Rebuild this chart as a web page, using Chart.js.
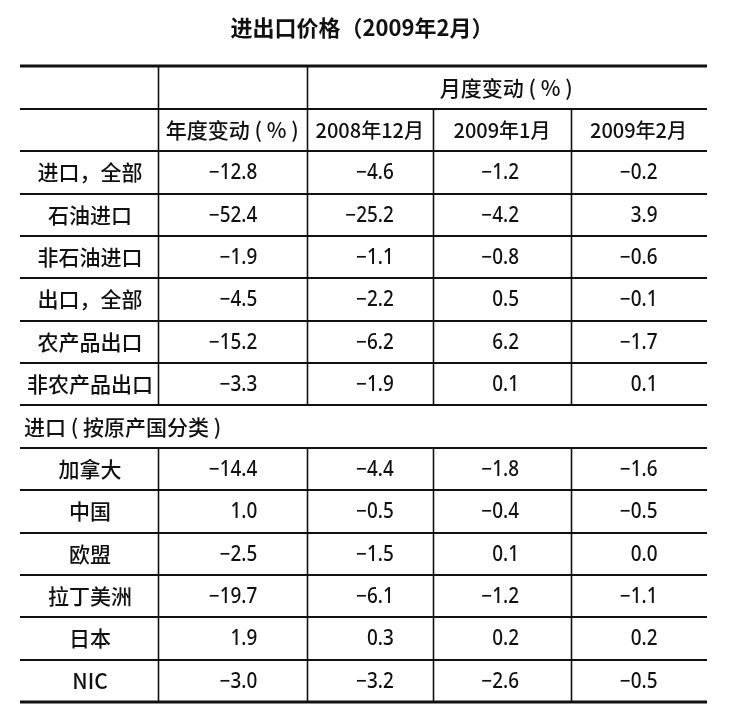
<!DOCTYPE html>
<html>
<head>
<meta charset="utf-8">
<script src="https://cdn.jsdelivr.net/npm/chart.js@4.4.1/dist/chart.umd.min.js"></script>
<style>
  body { margin: 0; background: #fff; }
  canvas { display: block; }
</style>
</head>
<body>
<canvas id="chart" width="729" height="713"></canvas>
<script>
const titleText = '进出口价格（2009年2月）';
const groupHeader = '月度变动 ( % )';
const columnHeaders = ['年度变动 ( % )', '2008年12月', '2009年1月', '2009年2月'];
const sectionLabel = '进口 ( 按原产国分类 )';

const tradeLabels = ['进口，全部', '石油进口', '非石油进口', '出口，全部', '农产品出口', '非农产品出口'];
const countryLabels = ['加拿大', '中国', '欧盟', '拉丁美洲', '日本', 'NIC'];

const annualChange = [-12.8, -52.4, -1.9, -4.5, -15.2, -3.3, -14.4, 1.0, -2.5, -19.7, 1.9, -3.0];
const dec2008 = [-4.6, -25.2, -1.1, -2.2, -6.2, -1.9, -4.4, -0.5, -1.5, -6.1, 0.3, -3.2];
const jan2009 = [-1.2, -4.2, -0.8, 0.5, 6.2, 0.1, -1.8, -0.4, 0.1, -1.2, 0.2, -2.6];
const feb2009 = [-0.2, 3.9, -0.6, -0.1, -1.7, 0.1, -1.6, -0.5, 0.0, -1.1, 0.2, -0.5];

// layout (x units on the table scale, rows on the y scale)
const colEdges = [0, 140, 288.5, 415, 553, 688];
const decimalShift = [9, 8, 1, 3];
const totalRows = 15;

const cjkFont = '"Noto Sans CJK SC", "Noto Sans", sans-serif';
const numFont = '"Noto Sans", "DejaVu Sans", sans-serif';
const ink = '#111';

function fmt(v) {
    let s = Math.abs(v).toFixed(1);
    return v < 0 ? '\u2212' + s : s;
}

const tablePlugin = {
    id: 'table',
    afterDraw(chart) {
        const ctx = chart.ctx;
        const xs = chart.scales.x;
        const ys = chart.scales.y;
        const X = v => xs.getPixelForValue(v);
        const Y = r => ys.getPixelForValue(r);
        const colCenter = c => X((colEdges[c] + colEdges[c + 1]) / 2);
        const rowCenter = r => Y(r + 0.5);
        const left = X(colEdges[0]) + 2, right = X(colEdges[5]) + 1;

        // header rows, trade rows, section row, country rows
        const sectionRow = 2 + tradeLabels.length;
        const rows = [];
        tradeLabels.forEach((l, i) => rows.push({ r: 2 + i, label: l, idx: i }));
        countryLabels.forEach((l, i) => rows.push({ r: sectionRow + 1 + i, label: l, idx: tradeLabels.length + i }));

        ctx.save();
        ctx.strokeStyle = ink;

        // horizontal rules
        for (let r = 0; r <= totalRows; r++) {
            const y = Math.round(Y(r));
            ctx.lineWidth = (r === 0 || r === totalRows) ? 3 : 2;
            ctx.beginPath();
            ctx.moveTo(left, y);
            ctx.lineTo(right, y);
            ctx.stroke();
        }

        // vertical rules (none through the section row)
        ctx.lineWidth = 1.6;
        for (let c = 1; c < colEdges.length - 1; c++) {
            const x = Math.round(X(colEdges[c])) + 0.5;
            const startRow = c <= 2 ? 0 : 1;
            [[startRow, sectionRow], [sectionRow + 1, totalRows]].forEach(([a, b]) => {
                ctx.beginPath();
                ctx.moveTo(x, Y(a));
                ctx.lineTo(x, Y(b));
                ctx.stroke();
            });
        }

        ctx.fillStyle = ink;
        ctx.textBaseline = 'middle';

        // header text
        ctx.font = '500 21px ' + cjkFont;
        ctx.textAlign = 'center';
        ctx.fillText(groupHeader, (X(colEdges[2]) + X(colEdges[5])) / 2, rowCenter(0));
        ctx.fillText(columnHeaders[0], colCenter(1), rowCenter(1));
        ctx.font = '500 20px ' + cjkFont;
        columnHeaders.slice(1).forEach((h, i) => ctx.fillText(h, colCenter(i + 2), rowCenter(1)));

        // section label
        ctx.font = '500 21px ' + cjkFont;
        ctx.textAlign = 'left';
        ctx.fillText(sectionLabel, X(colEdges[0]) + 6, rowCenter(sectionRow));

        // row labels
        ctx.textAlign = 'center';
        rows.forEach(row => ctx.fillText(row.label, colCenter(0) + 2, rowCenter(row.r)));

        // numbers, aligned on the decimal point
        const series = [annualChange, dec2008, jan2009, feb2009];
        ctx.font = '500 21px ' + numFont;
        rows.forEach(row => {
            series.forEach((s, c) => {
                const txt = fmt(s[row.idx]);
                const dot = txt.indexOf('.');
                ctx.save();
                ctx.translate(colCenter(c + 1) + decimalShift[c], rowCenter(row.r) + 1);
                ctx.scale(0.9, 1);
                ctx.textAlign = 'right';
                ctx.fillText(txt.slice(0, dot), 0, 0);
                ctx.textAlign = 'left';
                ctx.fillText(txt.slice(dot), 0, 0);
                ctx.restore();
            });
        });
        ctx.restore();
    }
};

new Chart(document.getElementById('chart').getContext('2d'), {
    type: 'scatter',
    data: { datasets: [] },
    options: {
        responsive: false,
        animation: false,
        events: [],
        layout: { padding: { left: 18, right: 23, top: 0, bottom: 11 } },
        plugins: {
            legend: { display: false },
            tooltip: { enabled: false },
            title: {
                display: true,
                text: titleText,
                color: ink,
                font: { family: cjkFont, size: 22, weight: 'bold' },
                padding: { top: 14, bottom: 26 }
            }
        },
        scales: {
            x: { type: 'linear', display: false, min: colEdges[0], max: colEdges[5] },
            y: { type: 'linear', display: false, min: 0, max: totalRows, reverse: true }
        }
    },
    plugins: [tablePlugin]
});
</script>
</body>
</html>
